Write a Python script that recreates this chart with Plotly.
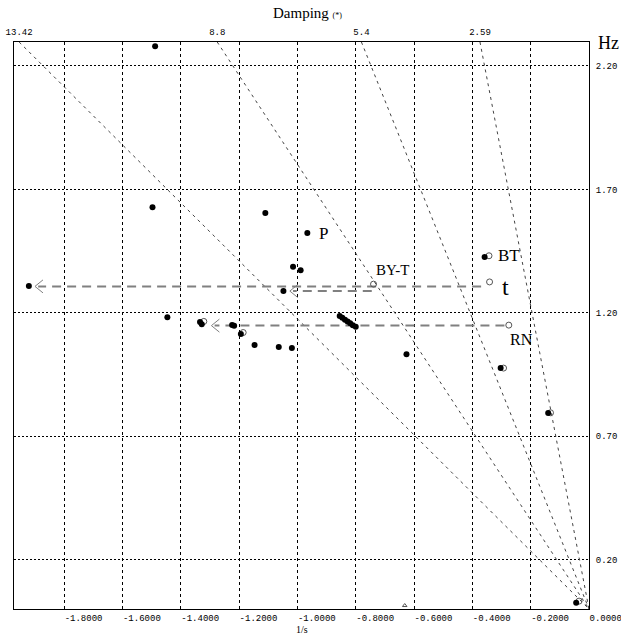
import math
import plotly.graph_objects as go

# ---------------- data ----------------
x_range = [-1.972, 0.0]
y_range = [0.0, 2.297]

x_ticks = [-1.8, -1.6, -1.4, -1.2, -1.0, -0.8, -0.6, -0.4, -0.2, 0.0]
x_tick_labels = ["-1.8000", "-1.6000", "-1.4000", "-1.2000", "-1.0000",
                 "-0.8000", "-0.6000", "-0.4000", "-0.2000", "0.0000"]
y_ticks = [0.2, 0.7, 1.2, 1.7, 2.2]
y_tick_labels = ["0.20", "0.70", "1.20", "1.70", "2.20"]

damping_pct = [13.42, 8.8, 5.4, 2.59]
damping_labels = ["13.42", "8.8", "5.4", "2.59"]

# filled modes (1/s, Hz)
mode_x = [-1.488, -1.497, -1.110, -0.966, -1.015, -0.989, -1.048, -1.921,
          -1.446, -1.334, -1.328, -1.224, -1.217, -1.194, -1.147, -1.064,
          -1.019, -0.855, -0.846, -0.837, -0.828, -0.819, -0.810, -0.800,
          -0.626, -0.303, -0.140, -0.044, -0.358]
mode_y = [2.280, 1.628, 1.604, 1.523, 1.386, 1.372, 1.288, 1.309,
          1.182, 1.163, 1.154, 1.151, 1.147, 1.114, 1.069, 1.061,
          1.057, 1.187, 1.180, 1.172, 1.165, 1.158, 1.150, 1.143,
          1.032, 0.976, 0.794, 0.025, 1.426]

# open (reference) modes
open_x = [-0.343, -0.341, -0.739, -0.275, -0.293, -1.186, -1.321, -0.034, -0.132]
open_y = [1.431, 1.325, 1.316, 1.150, 0.976, 1.120, 1.165, 0.032, 0.795]

# small caret mark near the bottom axis
caret_x = [-0.632]
caret_y = [0.014]

# shift arrows (from open mode to filled mode)
arrow_from_x = [-0.370, -0.745, -0.290]
arrow_to_x = [-1.900, -1.026, -1.295]
arrow_y = [1.307, 1.288, 1.148]

# mode labels, anchored at a mode
label_text = ["P", "BT", "t", "BY-T", "RN"]
label_x = [-0.966, -0.343, -0.341, -0.739, -0.275]
label_y = [1.523, 1.431, 1.325, 1.316, 1.150]

# ---------------- styling ----------------
label_xshift = [10, 7, 10, 0, -1]
label_yshift = [0, 0, -5, 14, -14]
label_size = [17, 17, 24, 15, 16]

MONO = "Liberation Mono"
SERIF = "Liberation Serif"

M_L, M_R, M_T, M_B = 14, 32, 42, 28
W, H = 621, 637
px_per_x = (W - M_L - M_R) / (x_range[1] - x_range[0])
px_per_y = (H - M_T - M_B) / (y_range[1] - y_range[0])
head_dx = 8 / px_per_x
head_dy = 6.5 / px_per_y

fig = go.Figure()

# constant damping lines through origin
f_top = y_range[1]
sigma_top = []
for z in damping_pct:
    zeta = z / 100.0
    s = -2 * math.pi * f_top * zeta / math.sqrt(1 - zeta ** 2)
    sigma_top.append(s)
    fig.add_trace(go.Scatter(
        x=[s, 0.0], y=[f_top, 0.0], mode="lines",
        line=dict(color="#444444", width=1, dash="3px,4px"),
        hoverinfo="skip", showlegend=False))

# shift arrows (dashed shafts + open chevron heads)
for fx, tx, ay in zip(arrow_from_x, arrow_to_x, arrow_y):
    fig.add_trace(go.Scatter(
        x=[fx, tx + head_dx * 0.4], y=[ay, ay], mode="lines",
        line=dict(color="#808080", width=2, dash="9px,6px"),
        hoverinfo="skip", showlegend=False))
    fig.add_trace(go.Scatter(
        x=[tx + head_dx, tx, tx + head_dx], y=[ay + head_dy, ay, ay - head_dy],
        mode="lines", line=dict(color="#808080", width=1),
        hoverinfo="skip", showlegend=False))

fig.add_trace(go.Scatter(
    x=open_x, y=open_y, mode="markers",
    marker=dict(symbol="circle-open", size=6, color="#555555",
                line=dict(width=1, color="#555555")),
    showlegend=False))

fig.add_trace(go.Scatter(
    x=mode_x, y=mode_y, mode="markers",
    marker=dict(symbol="circle", size=6, color="black"),
    showlegend=False))

fig.add_trace(go.Scatter(
    x=caret_x, y=caret_y, mode="markers",
    marker=dict(symbol="triangle-up-open", size=4, color="#555555",
                line=dict(width=1, color="#555555")),
    showlegend=False))

# secondary top axis for damping labels
fig.add_trace(go.Scatter(x=[x_range[0]], y=[y_range[0]], xaxis="x2",
                         mode="markers", marker=dict(opacity=0),
                         hoverinfo="skip", showlegend=False))

annotations = []
for t, lx, ly, xs, ys, sz in zip(label_text, label_x, label_y,
                                  label_xshift, label_yshift, label_size):
    annotations.append(dict(
        x=lx, y=ly, xref="x", yref="y", text=t, showarrow=False,
        xanchor="left", yanchor="middle", xshift=xs, yshift=ys,
        font=dict(family=SERIF, size=sz, color="black")))

annotations += [
    dict(x=0.5113, y=1.051, xref="paper", yref="paper",
         text="Damping <span style='font-size:8px'>(*)</span>",
         showarrow=False, xanchor="center", yanchor="middle",
         font=dict(family=SERIF, size=15, color="black")),
    dict(x=1.0122, y=0.998, xref="paper", yref="paper", text="Hz",
         showarrow=False, xanchor="left", yanchor="middle",
         font=dict(family=SERIF, size=18, color="black")),
    dict(x=0.5009, y=-0.037, xref="paper", yref="paper", text="1/s",
         showarrow=False, xanchor="center", yanchor="middle",
         font=dict(family=SERIF, size=10, color="black")),
]

fig.update_layout(
    width=W, height=H,
    margin=dict(l=M_L, r=M_R, t=M_T, b=M_B, autoexpand=False),
    paper_bgcolor="white", plot_bgcolor="white",
    showlegend=False,
    annotations=annotations,
    xaxis=dict(
        range=x_range, tickvals=x_ticks, ticktext=x_tick_labels,
        ticks="", ticklabelposition="outside right", automargin=False,
        ticklabeloverflow="allow",
        tickfont=dict(family=MONO, size=9, color="black"),
        showgrid=True, gridcolor="black", gridwidth=1, griddash="3px,3px",
        showline=True, linecolor="black", linewidth=1, mirror=True,
        zeroline=False, fixedrange=True),
    xaxis2=dict(
        range=x_range, overlaying="x", side="top", automargin=False,
        tickvals=sigma_top, ticktext=damping_labels, ticks="",
        ticklabeloverflow="allow",
        tickfont=dict(family=MONO, size=9, color="black"),
        ticklabelstandoff=4,
        showgrid=False, showline=False, zeroline=False),
    yaxis=dict(
        range=y_range, tickvals=y_ticks, ticktext=y_tick_labels,
        side="right", ticks="", ticklabelstandoff=4, automargin=False,
        tickfont=dict(family=MONO, size=9, color="black"),
        showgrid=True, gridcolor="black", gridwidth=1, griddash="2px,2px",
        showline=True, linecolor="black", linewidth=1, mirror=True,
        zeroline=False, fixedrange=True),
)

fig.write_html("out.html",
               config={"displayModeBar": False},
               post_script="document.body.style.margin='0';"
                           "document.body.style.overflow='hidden';")
